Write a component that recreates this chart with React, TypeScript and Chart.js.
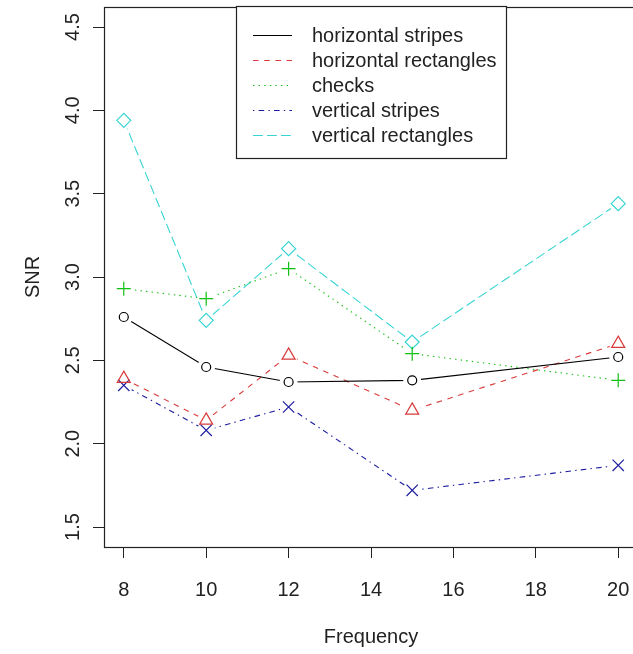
import React, { useEffect, useRef } from "react";
import { Chart, registerables } from "chart.js";

Chart.register(...registerables);

const frequencies = [8, 10, 12, 15, 20];
const seriesNames = [
  "horizontal stripes",
  "horizontal rectangles",
  "checks",
  "vertical stripes",
  "vertical rectangles",
];
const horizontalStripes = [2.76, 2.46, 2.37, 2.38, 2.52];
const horizontalRectangles = [2.39, 2.14, 2.53, 2.2, 2.6];
const checks = [2.93, 2.87, 3.05, 2.54, 2.38];
const verticalStripes = [2.35, 2.08, 2.22, 1.72, 1.87];
const verticalRectangles = [3.94, 2.74, 3.17, 2.61, 3.44];
const xTicks = [8, 10, 12, 14, 16, 18, 20];
const yTicks = [1.5, 2.0, 2.5, 3.0, 3.5, 4.0, 4.5];
const yTickLabels = ["1.5", "2.0", "2.5", "3.0", "3.5", "4.0", "4.5"];
const xTitle = "Frequency";
const yTitle = "SNR";

const seriesValues = [
  horizontalStripes,
  horizontalRectangles,
  checks,
  verticalStripes,
  verticalRectangles,
];
const colors = ["#000000", "#d83a3a", "#10c010", "#1c1ca0", "#38d4d4"];
const dashes = [[], [5.6, 5.6], [1.4, 4.2], [1.4, 4.2, 5.6, 4.2], [9.8, 4.2]];
const pointStyles = ["circle", "triangle", "cross", "crossRot", "rectRot"];
const pointRadii = [4.5, 7.5, 7, 8, 7];

const FONT = '"Liberation Sans", Arial, sans-serif';
const TEXT = "#222222";
const GAP = 9;

const gapPlugin = {
  id: "gapPlugin",
  beforeDatasetDraw(chart: any, args: any) {
    const ds = chart.data.datasets[args.index];
    if (!ds.isLine) return;
    const ctx = chart.ctx;
    ctx.save();
    ctx.beginPath();
    ctx.rect(0, 0, chart.width, chart.height);
    for (const el of args.meta.data) {
      ctx.moveTo(el.x + GAP, el.y);
      ctx.arc(el.x, el.y, GAP, 0, Math.PI * 2);
    }
    ctx.clip("evenodd");
  },
  afterDatasetDraw(chart: any, args: any) {
    const ds = chart.data.datasets[args.index];
    if (!ds.isLine) return;
    chart.ctx.restore();
  },
};

const boxPlugin = {
  id: "boxPlugin",
  afterDatasetsDraw(chart: any) {
    const { ctx, chartArea } = chart;
    ctx.save();
    ctx.strokeStyle = "#222222";
    ctx.lineWidth = 1.2;
    ctx.strokeRect(
      Math.round(chartArea.left) + 0.5,
      Math.round(chartArea.top) + 0.5,
      Math.round(chartArea.right - chartArea.left),
      Math.round(chartArea.bottom - chartArea.top)
    );
    ctx.restore();
  },
};

const legendPlugin = {
  id: "rLegend",
  afterDraw(chart: any) {
    const ctx = chart.ctx;
    const boxL = 236, boxT = 6, boxR = 506, boxB = 158;
    ctx.save();
    ctx.fillStyle = "#ffffff";
    ctx.fillRect(boxL, boxT, boxR - boxL, boxB - boxT);
    ctx.strokeStyle = "#222222";
    ctx.lineWidth = 1.2;
    ctx.setLineDash([]);
    ctx.strokeRect(boxL + 0.5, boxT + 0.5, boxR - boxL, boxB - boxT);
    const lines = chart.data.datasets.filter((d: any) => d.isLine);
    lines.forEach((d: any, i: number) => {
      const y = 35 + i * 25;
      ctx.beginPath();
      ctx.strokeStyle = d.borderColor;
      ctx.lineWidth = 1.2;
      ctx.setLineDash(d.borderDash || []);
      ctx.moveTo(253, y + 0.5);
      ctx.lineTo(292, y + 0.5);
      ctx.stroke();
      ctx.setLineDash([]);
      ctx.fillStyle = TEXT;
      ctx.font = `20px ${FONT}`;
      ctx.textBaseline = "middle";
      ctx.textAlign = "left";
      ctx.fillText(d.label, 312, y + 1);
    });
    ctx.restore();
  },
};

export default function App() {
  const ref = useRef<HTMLCanvasElement | null>(null);

  useEffect(() => {
    if (!ref.current) return;
    const datasets: any[] = [];
    seriesValues.forEach((vals, i) => {
      const pts = frequencies.map((f, j) => ({ x: f, y: vals[j] }));
      datasets.push({
        label: seriesNames[i],
        isLine: true,
        data: pts,
        borderColor: colors[i],
        borderWidth: 1.1,
        borderDash: dashes[i],
        pointRadius: 0,
        pointHoverRadius: 0,
        fill: false,
        tension: 0,
        clip: false,
      });
      datasets.push({
        label: seriesNames[i] + " points",
        isLine: false,
        data: pts,
        showLine: false,
        pointStyle: pointStyles[i],
        pointRadius: pointRadii[i],
        pointBorderColor: colors[i],
        pointBackgroundColor: "rgba(0,0,0,0)",
        pointBorderWidth: 1.2,
        clip: false,
      });
    });

    const chart = new Chart(ref.current, {
      type: "line",
      data: { datasets },
      options: {
        animation: false,
        responsive: false,
        maintainAspectRatio: false,
        devicePixelRatio: 1,
        events: [],
        layout: {
          autoPadding: false,
          padding: { top: 7, right: 2, left: 0, bottom: 0 },
        },
        plugins: {
          legend: { display: false },
          tooltip: { enabled: false },
        },
        scales: {
          x: {
            type: "linear",
            min: 7.52,
            max: 20.48,
            afterBuildTicks: (s: any) => {
              s.ticks = xTicks.map((v) => ({ value: v }));
            },
            afterFit: (s: any) => {
              s.height = 107;
              s.paddingLeft = 0;
              s.paddingRight = 0;
            },
            grid: {
              display: true,
              drawOnChartArea: false,
              drawTicks: true,
              tickLength: 11,
              color: "#222222",
              lineWidth: 1,
            },
            border: { display: false },
            ticks: {
              autoSkip: false,
              maxRotation: 0,
              minRotation: 0,
              padding: 20,
              color: TEXT,
              font: { family: FONT, size: 20 },
              callback: (v: any) => String(v),
            },
            title: {
              display: true,
              text: xTitle,
              color: TEXT,
              font: { family: FONT, size: 20 },
              padding: { top: 0, bottom: 5 },
            },
          },
          y: {
            type: "linear",
            min: 1.38,
            max: 4.62,
            afterBuildTicks: (s: any) => {
              s.ticks = yTicks.map((v) => ({ value: v }));
            },
            afterFit: (s: any) => {
              s.width = 104;
              s.paddingTop = 0;
              s.paddingBottom = 0;
            },
            grid: {
              display: true,
              drawOnChartArea: false,
              drawTicks: true,
              tickLength: 11,
              color: "#222222",
              lineWidth: 1,
            },
            border: { display: false },
            ticks: {
              autoSkip: false,
              minRotation: 90,
              maxRotation: 90,
              crossAlign: "center",
              padding: 6,
              color: TEXT,
              font: { family: FONT, size: 20 },
              callback: (v: any) => {
                const k = yTicks.indexOf(Number(v));
                return k >= 0 ? yTickLabels[k] : "";
              },
            },
            title: {
              display: true,
              text: yTitle,
              color: TEXT,
              font: { family: FONT, size: 20 },
              padding: { top: 21, bottom: 0 },
            },
          },
        },
      },
      plugins: [gapPlugin, boxPlugin, legendPlugin],
    } as any);
    return () => chart.destroy();
  }, []);

  return (
    <div
      style={{
        position: "absolute",
        left: 0,
        top: 0,
        width: 633,
        height: 654,
        overflow: "hidden",
        background: "#ffffff",
      }}
    >
      <div style={{ width: 640, height: 654 }}>
        <canvas
          ref={ref}
          width={640}
          height={654}
          style={{ display: "block", width: 640, height: 654 }}
        />
      </div>
    </div>
  );
}
